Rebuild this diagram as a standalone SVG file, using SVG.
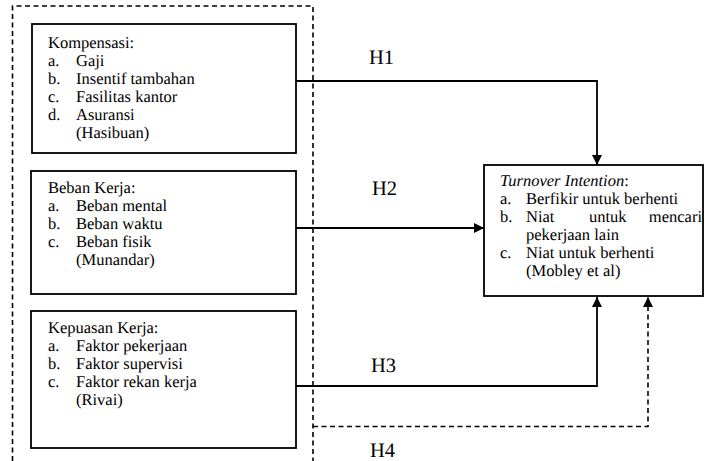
<svg xmlns="http://www.w3.org/2000/svg" width="705" height="461" viewBox="0 0 705 461" font-family="'Liberation Serif', 'DejaVu Serif', serif">
<style>
  text { font-family: 'Liberation Serif', 'DejaVu Serif', serif; fill: #000; text-rendering: geometricPrecision; }
  .t { font-size: 16.5px; }
  .h { font-size: 20.5px; }
  .box { fill: #fff; stroke: #000; stroke-width: 1.8; }
  .ln { fill: none; stroke: #000; stroke-width: 1.8; }
  .dash { fill: none; stroke: #000; stroke-width: 1.6; stroke-dasharray: 5 3.5; }
</style>
<defs>
  <marker id="arr" viewBox="0 0 10 10" refX="10" refY="5" markerWidth="10" markerHeight="10" markerUnits="userSpaceOnUse" orient="auto">
    <path d="M0,0 L10,5 L0,10 Z" fill="#000"/>
  </marker>
</defs>
<rect width="705" height="461" fill="#fff"/>
<g id="outer-group">
  <path class="dash" d="M12.5,461 V6 H313 V461"/>
</g>
<g id="connectors">
  <path class="ln" d="M296,81 H597 V165" marker-end="url(#arr)"/>
  <path class="ln" d="M296,228 H484" marker-end="url(#arr)"/>
  <path class="ln" d="M296,386 H597 V297" marker-end="url(#arr)"/>
  <path class="dash" d="M313,426.5 H648 V297" marker-end="url(#arr)"/>
  <text class="h" x="369" y="64">H1</text>
  <text class="h" x="372" y="195">H2</text>
  <text class="h" x="371" y="372">H3</text>
  <text class="h" x="370" y="457">H4</text>
</g>
<g id="kompensasi">
  <rect class="box" x="32" y="24" width="264" height="129"/>
  <text class="t" x="48" y="48">Kompensasi:</text>
  <text class="t" x="48" y="66">a.</text><text class="t" x="76" y="66">Gaji</text>
  <text class="t" x="48" y="84">b.</text><text class="t" x="76" y="84">Insentif tambahan</text>
  <text class="t" x="48" y="102">c.</text><text class="t" x="76" y="102">Fasilitas kantor</text>
  <text class="t" x="48" y="120">d.</text><text class="t" x="76" y="120">Asuransi</text>
  <text class="t" x="76" y="138">(Hasibuan)</text>
</g>
<g id="beban-kerja">
  <rect class="box" x="31" y="171" width="265" height="123"/>
  <text class="t" x="48" y="193">Beban Kerja:</text>
  <text class="t" x="48" y="211">a.</text><text class="t" x="76" y="211">Beban mental</text>
  <text class="t" x="48" y="229">b.</text><text class="t" x="76" y="229">Beban waktu</text>
  <text class="t" x="48" y="247">c.</text><text class="t" x="76" y="247">Beban fisik</text>
  <text class="t" x="76" y="265">(Munandar)</text>
</g>
<g id="kepuasan-kerja">
  <rect class="box" x="31" y="311" width="265" height="137"/>
  <text class="t" x="48" y="333">Kepuasan Kerja:</text>
  <text class="t" x="48" y="351">a.</text><text class="t" x="76" y="351">Faktor pekerjaan</text>
  <text class="t" x="48" y="369">b.</text><text class="t" x="76" y="369">Faktor supervisi</text>
  <text class="t" x="48" y="387">c.</text><text class="t" x="76" y="387">Faktor rekan kerja</text>
  <text class="t" x="76" y="405">(Rivai)</text>
</g>
<g id="turnover-intention">
  <rect class="box" x="484" y="165" width="219" height="131"/>
  <text class="t" x="500" y="186"><tspan font-style="italic">Turnover Intention</tspan>:</text>
  <text class="t" x="500" y="204">a.</text><text class="t" x="526" y="204">Berfikir untuk berhenti</text>
  <text class="t" x="500" y="222">b.</text><text class="t" x="526" y="222">Niat</text>
  <text class="t" x="589" y="222">untuk</text>
  <text class="t" x="702" y="222" text-anchor="end">mencari</text>
  <text class="t" x="526" y="240">pekerjaan lain</text>
  <text class="t" x="500" y="258">c.</text><text class="t" x="526" y="258">Niat untuk berhenti</text>
  <text class="t" x="526" y="276">(Mobley et al)</text>
</g>
</svg>
